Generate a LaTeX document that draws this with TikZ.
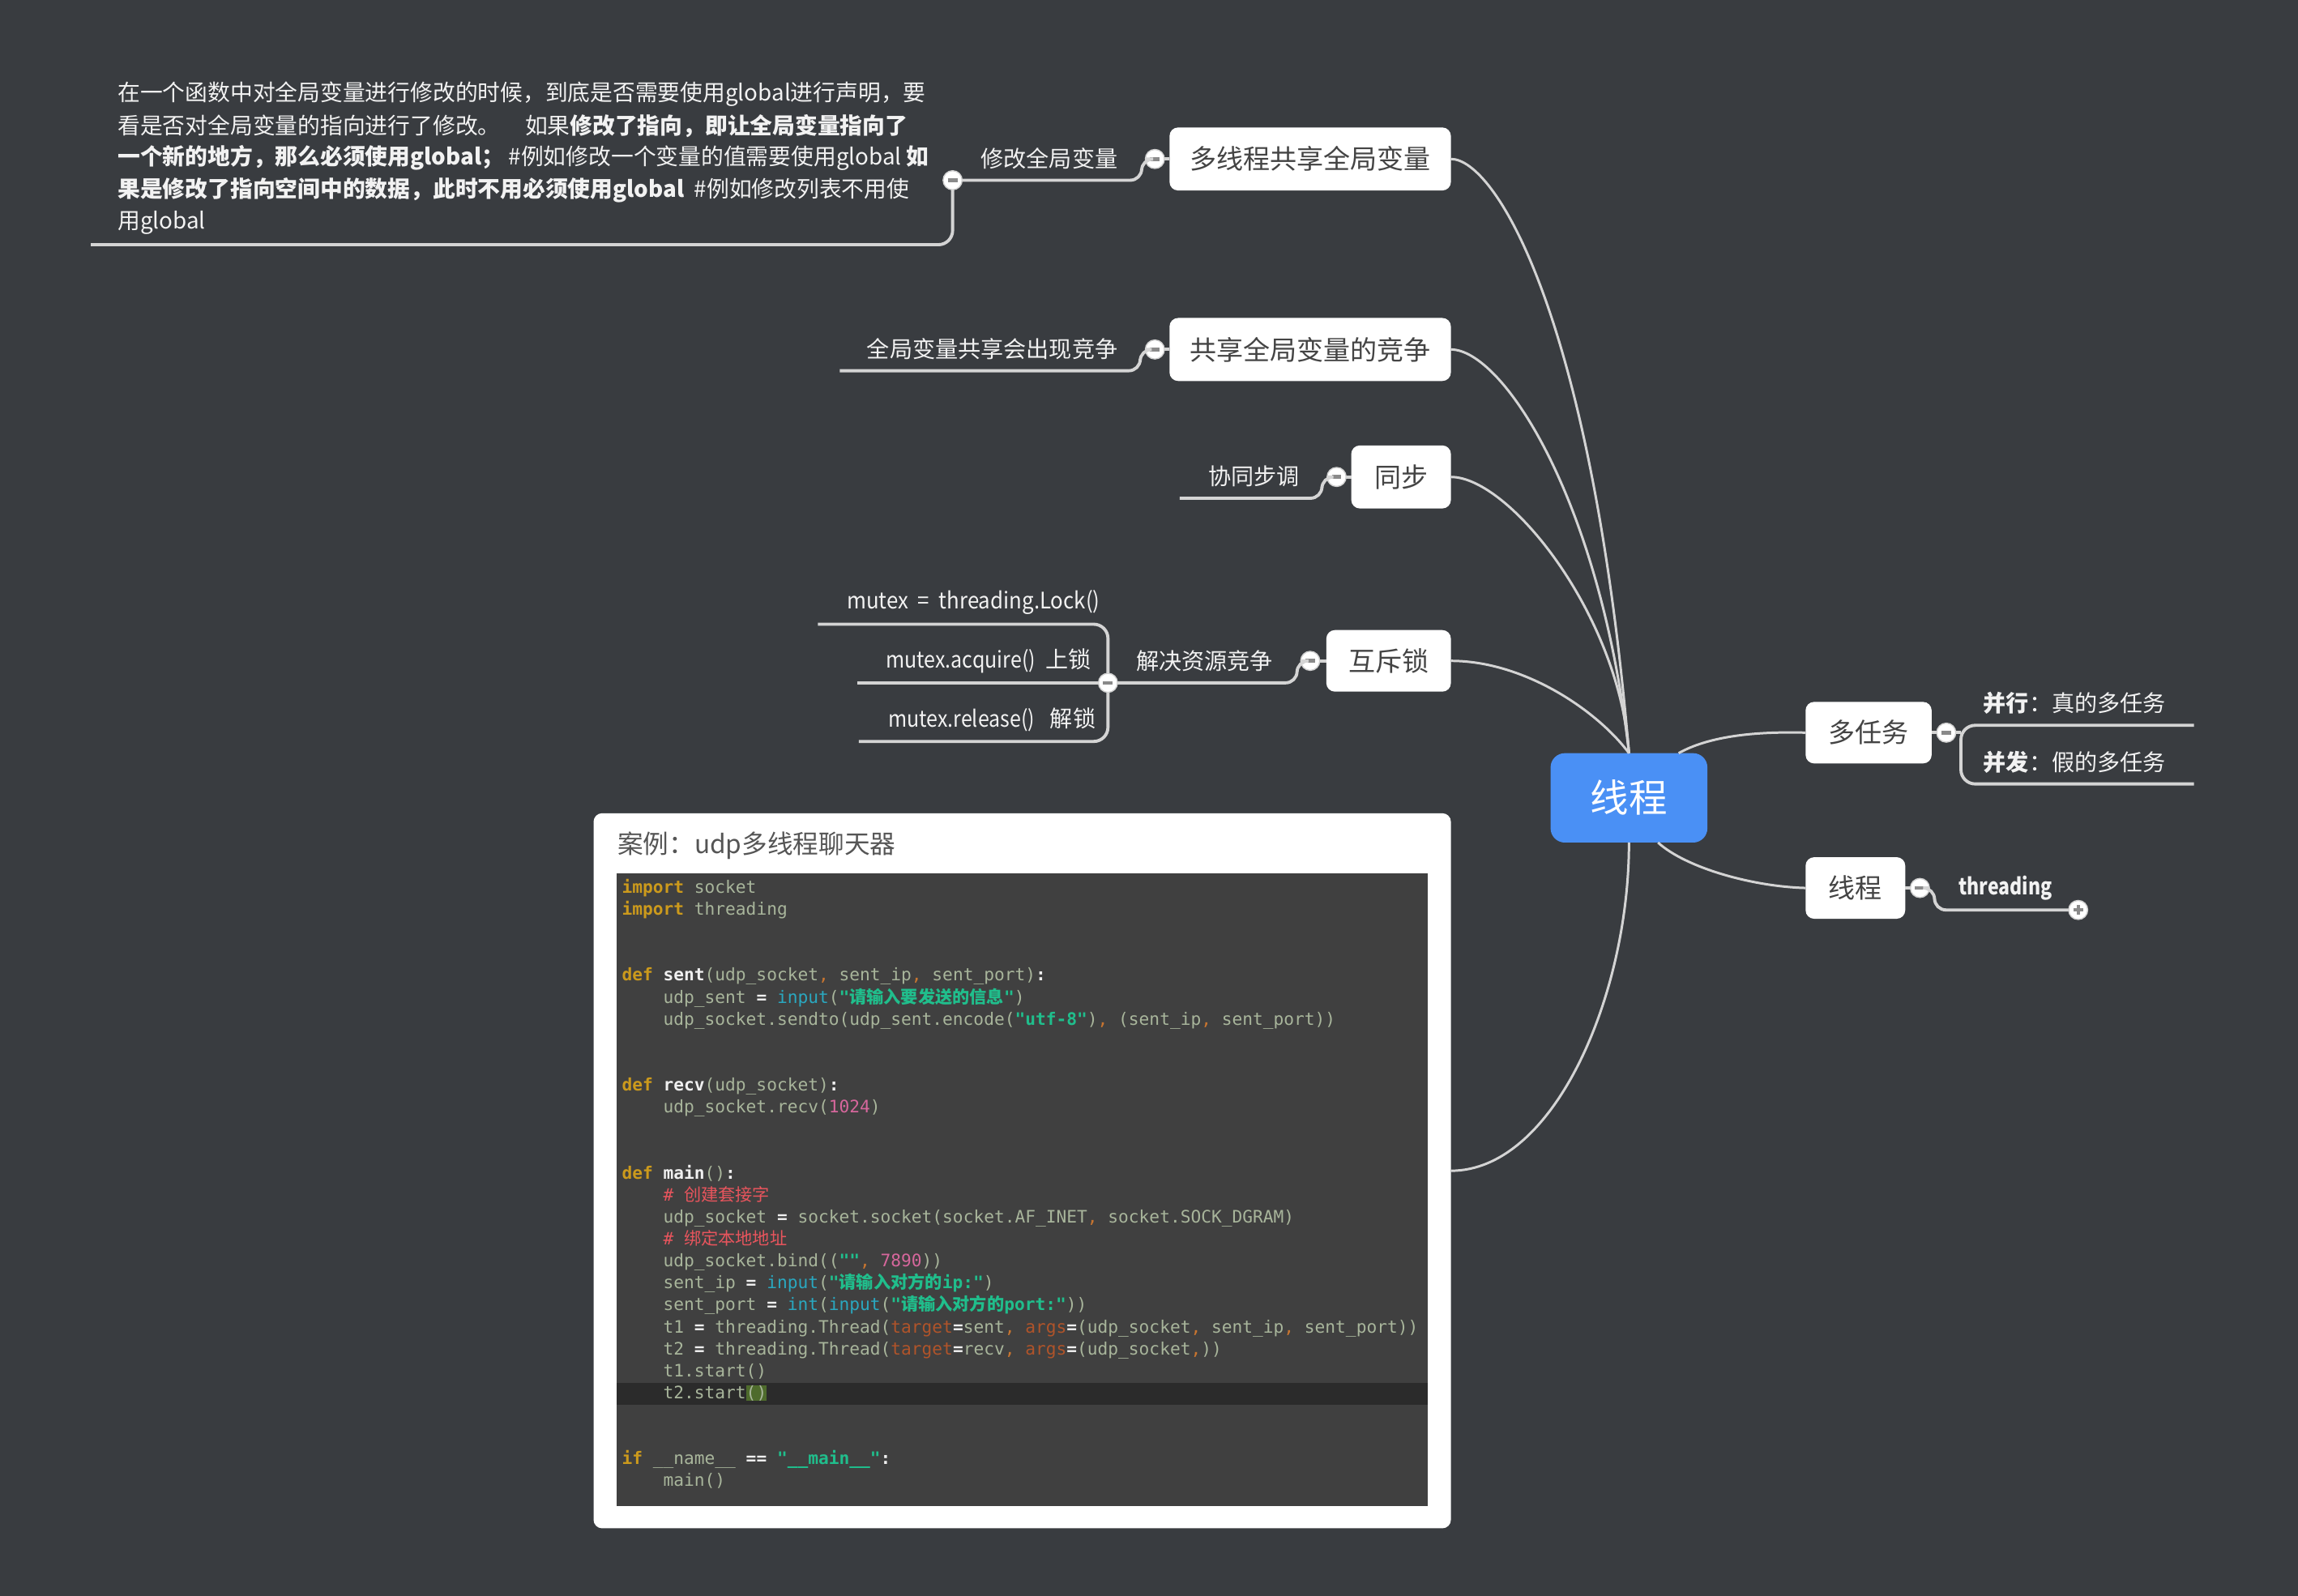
\documentclass[tikz,border=0pt]{standalone}
\usepackage{graphicx}
\usepackage{fontspec}
\setmainfont{Noto Sans CJK SC}
\newfontfamily\codefont{DejaVu Sans Mono}
\newfontfamily\codecjk{Noto Sans CJK SC}
\newlength{\uu}\setlength{\uu}{0.018087cm}
\definecolor{bg}{HTML}{393C40}
\definecolor{linec}{HTML}{D4D4D4}
\definecolor{rootblue}{HTML}{4A90F5}
\definecolor{nodetext}{HTML}{444444}
\definecolor{labeltext}{HTML}{F2F2F2}
\definecolor{codebg}{HTML}{404040}
\definecolor{hlline}{HTML}{2B2B2B}
\definecolor{hlgreen}{HTML}{4E6B2C}
\definecolor{cnorm}{HTML}{A8B59B}
\definecolor{ckw}{HTML}{CC9A1C}
\definecolor{cfn}{HTML}{F0F0F0}
\definecolor{cbi}{HTML}{2AA8C0}
\definecolor{cstr}{HTML}{20BE8C}
\definecolor{cnum}{HTML}{D6679C}
\definecolor{ccom}{HTML}{E8555D}
\definecolor{carg}{HTML}{B0542A}
\definecolor{cpunc}{HTML}{C87530}
\definecolor{titletext}{HTML}{555555}
\definecolor{minusc}{HTML}{8A8A8A}
\newcommand{\cKw}[1]{\textcolor{ckw}{\bfseries #1}}
\newcommand{\cFn}[1]{\textcolor{cfn}{\bfseries #1}}
\newcommand{\cBi}[1]{\textcolor{cbi}{#1}}
\newcommand{\cStr}[1]{\textcolor{cstr}{\bfseries #1}}
\newcommand{\cNum}[1]{\textcolor{cnum}{#1}}
\newcommand{\cCom}[1]{\textcolor{ccom}{#1}}
\newcommand{\cArg}[1]{\textcolor{carg}{#1}}
\newcommand{\cP}[1]{\textcolor{cpunc}{#1}}
\newcommand{\cOp}[1]{\textcolor{cfn}{\bfseries #1}}
\newcommand{\cInd}{\hphantom{xxxx}}
\newcommand{\cHl}[1]{{\setlength{\fboxsep}{0pt}\colorbox{hlgreen}{#1}}}
\newcommand{\narrowtxt}[2]{\scalebox{#1}[1]{#2}}
\tikzset{
  conn/.style={draw=linec, line width=0.85pt},
  subl/.style={draw=linec, line width=1.1pt},
  topic/.style={fill=white, rounded corners=3pt, text=nodetext, inner sep=0, outer sep=0,
    font=\fontsize{9.4}{11}\selectfont},
  bigtopic/.style={topic, font=\fontsize{9.4}{11}\selectfont},
  lbl/.style={text=labeltext, inner sep=0, font=\fontsize{8}{10}\selectfont},
  longtxt/.style={text=labeltext, inner sep=0, anchor=west, font=\fontsize{7.9}{10}\selectfont},
  collapse/.style={circle, fill=white, draw=minusc!40!white, line width=0.4pt, minimum size=13\uu,
    inner sep=0, outer sep=0,
    path picture={\draw[line width=1.3pt, draw=minusc]
      ([xshift=-3.3\uu]path picture bounding box.center) -- ([xshift=3.3\uu]path picture bounding box.center);}},
  expand/.style={collapse,
    path picture={\draw[line width=1.1pt, draw=minusc]
      ([xshift=-3.3\uu]path picture bounding box.center) -- ([xshift=3.3\uu]path picture bounding box.center)
      ([yshift=-3.3\uu]path picture bounding box.center) -- ([yshift=3.3\uu]path picture bounding box.center);}},
  code/.style={text=cnorm, inner sep=0, anchor=base west, font=\codefont\fontsize{6.03}{7}\selectfont},
}
\begin{document}
\begin{tikzpicture}[x=0.018087cm, y=-0.018087cm]
\useasboundingbox (0,0) rectangle (1568,1089);
\fill[bg] (0,0) rectangle (1568,1089);

% ---------- main nodes ----------
\node[fill=rootblue, rounded corners=5pt, text=white, inner sep=0, outer sep=0,
  minimum width=107\uu, minimum height=61\uu, font=\fontsize{13.5}{15}\selectfont]
  (root) at (1111.5,544.5) {线程};
\node[bigtopic, minimum width=192\uu, minimum height=43\uu] (t1) at (894,108.5) {多线程共享全局变量};
\node[bigtopic, minimum width=192\uu, minimum height=43\uu] (t2) at (894,238.5) {共享全局变量的竞争};
\node[topic, minimum width=68\uu, minimum height=43\uu] (t3) at (956,325.5) {同步};
\node[topic, minimum width=85\uu, minimum height=42\uu] (t4) at (947.5,451) {互斥锁};
\node[topic, minimum width=86\uu, minimum height=42\uu] (r1) at (1275,500) {多任务};
\node[topic, minimum width=68\uu, minimum height=42\uu] (r2) at (1266,606) {线程};

% ---------- code card ----------
\node[fill=white, rounded corners=3pt, inner sep=0, outer sep=0,
  minimum width=585\uu, minimum height=488\uu] (card) at (697.5,799) {};
\node[text=titletext, inner sep=0, anchor=west, font=\fontsize{9.0}{11}\selectfont]
  (title) at (421,577) {案例：udp多线程聊天器};
\node[fill=codebg, inner sep=0, outer sep=0, minimum width=553\uu, minimum height=432\uu]
  (codebg) at (697.5,812) {};
\fill[hlline] (421,943.5) rectangle (974,958.5);

\node[code] (k0) at (424,609.5) {\cKw{import} socket};
\node[code] (k1) at (424,624.5) {\cKw{import} threading};
\node[code] (k4) at (424,669.5) {\cKw{def} \cFn{sent}(udp\_socket\cP{,} sent\_ip\cP{,} sent\_port)\cOp{:}};
\node[code] (k5) at (424,684.5) {\cInd udp\_sent \cOp{=} \cBi{input}(\cStr{"{\codecjk 请输入要发送的信息}"})};
\node[code] (k6) at (424,699.5) {\cInd udp\_socket.sendto(udp\_sent.encode(\cStr{"utf-8"})\cP{,} (sent\_ip\cP{,} sent\_port))};
\node[code] (k9) at (424,744.5) {\cKw{def} \cFn{recv}(udp\_socket)\cOp{:}};
\node[code] (k10) at (424,759.5) {\cInd udp\_socket.recv(\cNum{1024})};
\node[code] (k13) at (424,804.5) {\cKw{def} \cFn{main}()\cOp{:}};
\node[code] (k14) at (424,819.5) {\cInd \cCom{\# {\codecjk 创建套接字}}};
\node[code] (k15) at (424,834.5) {\cInd udp\_socket \cOp{=} socket.socket(socket.AF\_INET\cP{,} socket.SOCK\_DGRAM)};
\node[code] (k16) at (424,849.5) {\cInd \cCom{\# {\codecjk 绑定本地地址}}};
\node[code] (k17) at (424,864.5) {\cInd udp\_socket.bind((\cStr{""}\cP{,} \cNum{7890}))};
\node[code] (k18) at (424,879.5) {\cInd sent\_ip \cOp{=} \cBi{input}(\cStr{"{\codecjk 请输入对方的}ip:"})};
\node[code] (k19) at (424,894.5) {\cInd sent\_port \cOp{=} \cBi{int}(\cBi{input}(\cStr{"{\codecjk 请输入对方的}port:"}))};
\node[code] (k20) at (424,909.5) {\cInd t1 \cOp{=} threading.Thread(\cArg{target}\cOp{=}sent\cP{,} \cArg{args}\cOp{=}(udp\_socket\cP{,} sent\_ip\cP{,} sent\_port))};
\node[code] (k21) at (424,924.5) {\cInd t2 \cOp{=} threading.Thread(\cArg{target}\cOp{=}recv\cP{,} \cArg{args}\cOp{=}(udp\_socket\cP{,}))};
\node[code] (k22) at (424,939.5) {\cInd t1.start()};
\node[code] (k23) at (424,954.5) {\cInd t2.start\cHl{()}};
\node[code] (k26) at (424,999.5) {\cKw{if} \_\_name\_\_ \cOp{==} \cStr{"\_\_main\_\_"}\cOp{:}};
\node[code] (k27) at (424,1014.5) {\cInd main()};

% ---------- root connectors ----------
\draw[conn] (t1.east) .. controls (1020,108.5) and (1086,214) .. (root.north);
\draw[conn] (t2.east) .. controls (1025,238.5) and (1092,340) .. (root.north);
\draw[conn] (t3.east) .. controls (1030,325.5) and (1105,420) .. (root.north);
\draw[conn] (t4.east) .. controls (1040,451) and (1090,485) .. (root.north);
\draw[conn] (card.east) .. controls (1060,799) and (1111.5,680) .. (root.south);
\draw[conn] (root.42) .. controls (1165,503) and (1195,499) .. (r1.west);
\draw[conn] (root.-57) .. controls (1150,592) and (1195,605) .. (r2.west);

% ---------- collapse buttons ----------
\node[collapse] (c1) at (788,108.5) {};
\node[collapse] (c2) at (650,123) {};
\node[collapse] (c3) at (788,238.5) {};
\node[collapse] (c4) at (912,325.5) {};
\node[collapse] (c5) at (894,451) {};
\node[collapse] (c6) at (756,466) {};
\node[collapse] (c7) at (1328,500) {};
\node[collapse] (c8) at (1310,606) {};
\node[expand] (c9) at (1418,621) {};

% ---------- free ends ----------
\coordinate (e1) at (62,167);
\coordinate (e2) at (573,253);
\coordinate (e3) at (805,340);
\coordinate (e4) at (558,426);
\coordinate (e5) at (585,466);
\coordinate (e6) at (586,506);
\coordinate (e7) at (1497,495);
\coordinate (e8) at (1497,535);

% ---------- branch lines ----------
\draw[subl] (t1.west) -- (c1);
\draw[subl, rounded corners=4pt] (c1) -- (779,108.5) -- (779,123) -- (c2);
\draw[subl, rounded corners=5pt] (c2) -- (650,167) -- (e1);
\draw[subl] (t2.west) -- (c3);
\draw[subl, rounded corners=4pt] (c3) -- (778,238.5) -- (778,253) -- (e2);
\draw[subl] (t3.west) -- (c4);
\draw[subl, rounded corners=4pt] (c4) -- (902,325.5) -- (902,340) -- (e3);
\draw[subl] (t4.west) -- (c5);
\draw[subl, rounded corners=4pt] (c5) -- (885,451) -- (885,466) -- (c6);
\draw[subl, rounded corners=5pt] (c6) -- (756,426) -- (e4);
\draw[subl] (c6) -- (e5);
\draw[subl, rounded corners=5pt] (c6) -- (756,506) -- (e6);
\draw[subl] (r1.east) -- (c7);
\draw[subl] (c7) -- (1338,500);
\draw[subl, rounded corners=5pt] (e7) -- (1338,495) -- (1338,535) -- (e8);
\draw[subl] (r2.east) -- (c8);
\draw[subl, rounded corners=4pt] (c8) -- (1320,606) -- (1320,621) -- (c9);

% ---------- labels ----------
\node[lbl, anchor=east] (l1) at (763,108) {修改全局变量};
\node[lbl, anchor=east] (l2) at (763,238) {全局变量共享会出现竞争};
\node[lbl, anchor=east] (l3) at (887,325) {协同步调};
\node[lbl, anchor=east] (l4) at (869,451) {解决资源竞争};
\node[lbl, anchor=east] (m1) at (751,411) {\narrowtxt{0.92}{mutex\ \ =\ \ threading.Lock()}};
\node[lbl, anchor=east] (m2) at (745,451) {\narrowtxt{0.89}{mutex.acquire()}\ \ 上锁};
\node[lbl, anchor=east] (m3) at (748,491) {\narrowtxt{0.89}{mutex.release()}\ \ \ 解锁};
\node[lbl, anchor=west] (p1) at (1353,480) {\textbf{并行}：真的多任务};
\node[lbl, anchor=west] (p2) at (1353,520) {\textbf{并发}：假的多任务};
\node[lbl, anchor=west] (th) at (1336,606) {\narrowtxt{0.82}{\textbf{threading}}};

% ---------- long text ----------
\node[longtxt] (g1) at (80,64) {在一个函数中对全局变量进行修改的时候，到底是否需要使用global进行声明，要};
\node[longtxt] (g2) at (80,86) {看是否对全局变量的指向进行了修改。\hspace{1.1em}如果\textbf{修改了指向，即让全局变量指向了}};
\node[longtxt] (g3) at (80,108) {\textbf{一个新的地方，那么必须使用global；}\hspace{0.2em}\#例如修改一个变量的值需要使用global\hspace{0.2em}\textbf{如}};
\node[longtxt] (g4) at (80,130) {\textbf{果是修改了指向空间中的数据，此时不用必须使用global}\hspace{0.45em}\#例如修改列表不用使};
\node[longtxt] (g5) at (80,152) {用global};
\end{tikzpicture}
\end{document}
